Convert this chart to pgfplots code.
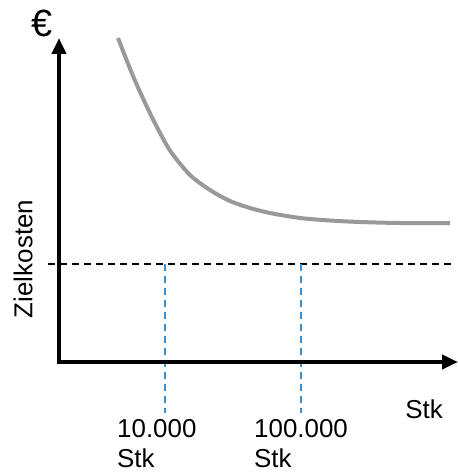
\documentclass[border=0pt]{standalone}
\usepackage{pgfplots}
\pgfplotsset{compat=1.18}
\usepackage{fontspec}
\setmainfont{Liberation Sans}
\usetikzlibrary{arrows.meta}
\definecolor{curvegray}{HTML}{999999}
\definecolor{dblue}{HTML}{3A8FD0}
\begin{document}
\begin{tikzpicture}
\begin{axis}[
  scale only axis, width=458bp, height=472bp,
  xmin=0, xmax=458, ymin=0, ymax=472, y dir=reverse,
  hide axis, clip=false,
]
% curve
\addplot[curvegray, line width=4bp, smooth] coordinates {
 (118,38) (133,76) (147,107) (159,131) (171,152) (190,175) (210,190)
 (230,201) (250,208) (270,213) (300,218) (330,220.5) (360,222) (400,223) (450,223)
};
% target cost dashed line
\addplot[black, line width=1.5bp, dash pattern=on 7bp off 5bp] coordinates {(48,264) (452,264)};
% blue dashed verticals
\addplot[dblue, line width=2bp, dash pattern=on 7bp off 5bp] coordinates {(165,264) (165,413)};
\addplot[dblue, line width=2bp, dash pattern=on 7bp off 5bp] coordinates {(301,264) (301,413)};
% axes
\addplot[black, line width=4bp, -{Triangle[length=16bp,width=14bp]}] coordinates {(59,364) (59,38)};
\addplot[black, line width=4bp, -{Triangle[length=16bp,width=14bp]}] coordinates {(57,362) (458,362)};
% labels
\node[font=\fontsize{38}{40}\selectfont, inner sep=0pt] at (axis cs:42,23) {€};
\node[font=\fontsize{26}{30}\selectfont, inner sep=0pt, rotate=90] at (axis cs:23,259) {Zielkosten};
\node[font=\fontsize{26}{30}\selectfont, inner sep=0pt] at (axis cs:424,409) {Stk};
\node[font=\fontsize{26}{30}\selectfont, inner sep=0pt, align=left, anchor=north west] at (axis cs:117,419) {10.000\\Stk};
\node[font=\fontsize{26}{30}\selectfont, inner sep=0pt, align=left, anchor=north west] at (axis cs:254,419) {100.000\\Stk};
\end{axis}
\pgfresetboundingbox
\path (current axis.south west) rectangle (current axis.north east);
\end{tikzpicture}
\end{document}
